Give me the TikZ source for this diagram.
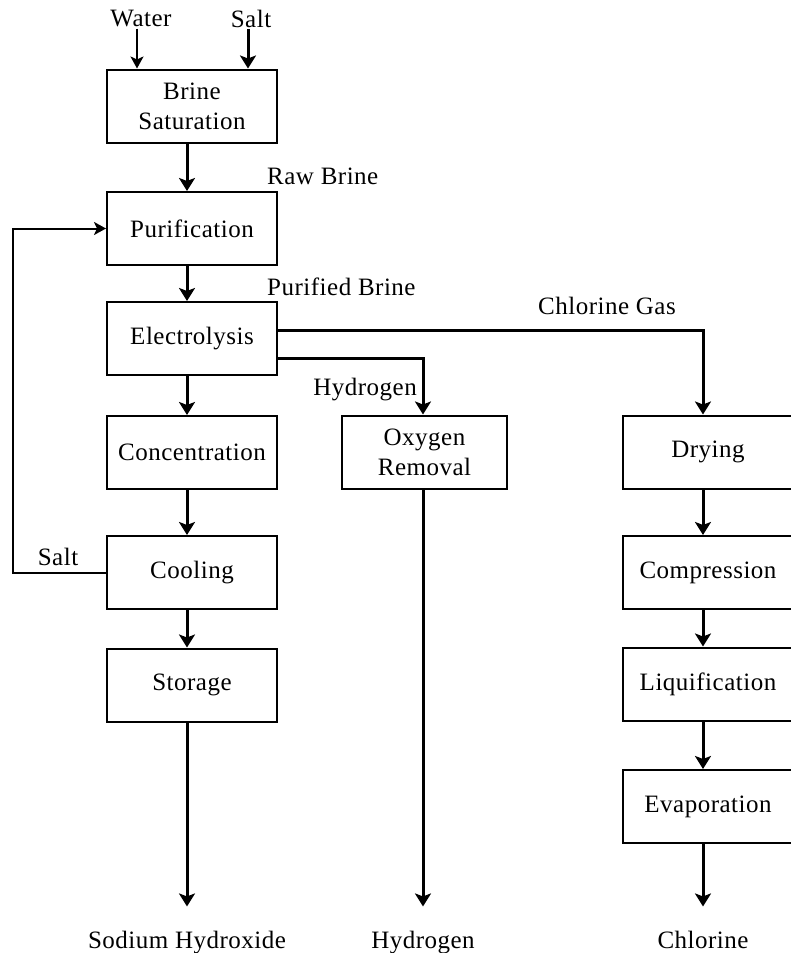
\documentclass[tikz,border=0pt]{standalone}
\usepackage{fontspec}
\setmainfont{Liberation Serif}[LetterSpace=2]
\usepackage{tikz}
\usetikzlibrary{arrows.meta,positioning}
\tikzset{
  box/.style={draw,line width=2pt,minimum width=170pt,minimum height=73pt,align=center,inner sep=2pt},
  obox/.style={box,minimum width=165pt},
  lab/.style={inner sep=1pt},
  prod/.style={lab,anchor=base},
  flow/.style={-{Stealth[length=13pt,width=16pt,inset=3pt]},line width=3pt},
  tflow/.style={-{Stealth[length=12pt,width=13pt,inset=3pt]},line width=2pt},
}

\begin{document}
\begin{tikzpicture}[x=1pt,y=-1pt,every node/.style={font=\fontsize{25}{30}\selectfont}]
\useasboundingbox (0,0) rectangle (790,953);
% main line
\node[box] (bs) at (192,106) {Brine\\Saturation};
\node[box] (pur) at (192,228.5) {Purification};
\node[box] (ele) at (192,338.5) {Electrolysis};
\node[box] (con) at (192,452.5) {Concentration};
\node[box] (cool) at (192,572.5) {Cooling};
\node[box] (sto) at (192,685) {Storage};
% hydrogen and chlorine lines
\node[obox] (oxy) at (424.5,452) {Oxygen\\Removal};
\node[box] (dry) at (708,452) {Drying};
\node[box] (comp) at (708,572.5) {Compression};
\node[box] (liq) at (708,684) {Liquification};
\node[box] (eva) at (708,806.5) {Evaporation};
% streams in and out
\node[lab] (water) at (141,19) {Water};
\node[lab] (salt) at (251,19) {Salt};
\node[prod] (naoh) at (187,948) {Sodium Hydroxide};
\node[prod] (htwo) at (423,948) {Hydrogen};
\node[prod] (cl) at (703,948) {Chlorine};
\node[lab,anchor=west] (rb) at (266,176) {Raw Brine};
\node[lab,anchor=west] (pb) at (266,287) {Purified Brine};
\node[lab] (clg) at (607,306) {Chlorine Gas};
\node[lab,anchor=east] (hy) at (418,390) {Hydrogen};
\node[lab] (rsalt) at (58,557) {Salt};

\draw[tflow] ([xshift=-4pt]water.south) -- ([xshift=-4pt]water.south |- bs.north);
\draw[flow] ([xshift=-3pt]salt.south) -- ([xshift=-3pt]salt.south |- bs.north);
\foreach \a/\b in {bs/pur,pur/ele,ele/con,con/cool,cool/sto,dry/comp,comp/liq,liq/eva}
  \draw[flow] ([xshift=-5pt]\a.south) -- ([xshift=-5pt]\b.north);
\draw[flow] ([yshift=8.5pt]ele.east) -| ([xshift=-5pt]dry.north);
\draw[flow] ([yshift=-19.5pt]ele.east) -| ([xshift=-1.5pt]oxy.north);
\draw[tflow] (cool.west) -- ++(-93,0) |- (pur.west);
\draw[flow,shorten >=23pt] ([xshift=-5pt]sto.south) -- (naoh.north);
\draw[flow,shorten >=23pt] ([xshift=-1.5pt]oxy.south) -- (htwo.north);
\draw[flow,shorten >=23pt] ([xshift=-5pt]eva.south) -- (cl.north);
\end{tikzpicture}
\end{document}
